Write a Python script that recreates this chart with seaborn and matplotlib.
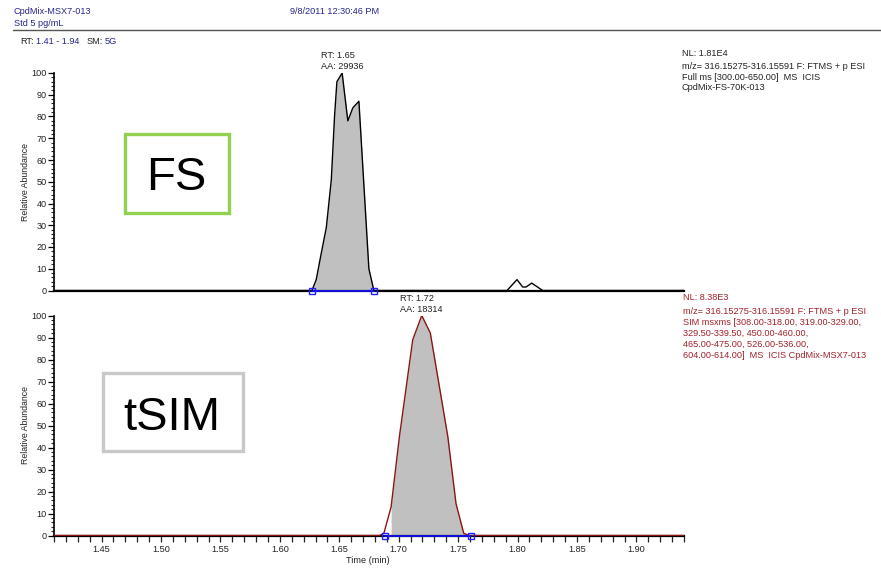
import numpy as np
import pandas as pd
import matplotlib
matplotlib.use("Agg")
import matplotlib.pyplot as plt
import matplotlib.patches as mpatches
from matplotlib.ticker import MultipleLocator, FormatStrFormatter
import seaborn as sns

# ---- chromatogram data (time in min, relative abundance in %) ----
fs_time = [1.41, 1.6270, 1.6306, 1.6348, 1.6391, 1.6433, 1.6460, 1.6480, 1.6524,
           1.6572, 1.6614, 1.6665, 1.6749, 1.6791,
           1.7911, 1.7995, 1.8043, 1.8071, 1.8119, 1.8211, 1.94]
fs_abund = [0, 0, 5, 17, 29, 51, 80, 96, 100,
            78, 84, 87, 10, 0,
            0, 5, 1.6, 1.6, 3.4, 0, 0]
fs_window = [1.6270, 1.6791]

sim_time = [1.41, 1.6838, 1.6875, 1.6936, 1.7006, 1.7118, 1.7194, 1.7266,
            1.7413, 1.7482, 1.7547, 1.7594, 1.94]
sim_abund = [0, 0, 1, 13, 45, 89, 100, 92, 45, 14.5, 1, 0, 0]
sim_window = [1.6886, 1.7609]

x_range = [1.41, 1.94]

header_left = ["CpdMix-MSX7-013", "Std 5 pg/mL"]
header_date = "9/8/2011 12:30:46 PM"
fs_peak_label = ["RT: 1.65", "AA: 29936"]
sim_peak_label = ["RT: 1.72", "AA: 18314"]
fs_info = ["NL: 1.81E4",
           "m/z= 316.15275-316.15591 F: FTMS + p ESI",
           "Full ms [300.00-650.00]  MS  ICIS",
           "CpdMix-FS-70K-013"]
sim_info = ["NL: 8.38E3",
            "m/z= 316.15275-316.15591 F: FTMS + p ESI",
            "SIM msxms [308.00-318.00, 319.00-329.00,",
            "329.50-339.50, 450.00-460.00,",
            "465.00-475.00, 526.00-536.00,",
            "604.00-614.00]  MS  ICIS CpdMix-MSX7-013"]

sns.set_style("white")
plt.rcParams["font.family"] = ["Liberation Sans", "DejaVu Sans"]

W, H = 881, 568
fig = plt.figure(figsize=(W / 100, H / 100), dpi=100)


def fx(x):
    return x / W


def fy(y):
    return 1 - y / H


BLUE_TXT = "#26268f"
RED_TXT = "#a3202a"
TRACE_RED = "#8b1414"
FILL = "#c0c0c0"
FS = 6.6

ax_left, ax_right = 54, 684
ax_w = ax_right - ax_left
ax1 = fig.add_axes([fx(ax_left), fy(290.5), ax_w / W, 217.5 / H])
ax2 = fig.add_axes([fx(ax_left), fy(535.5), ax_w / W, 220 / H])

fs_df = pd.DataFrame({"time": fs_time, "abund": fs_abund})
sim_df = pd.DataFrame({"time": sim_time, "abund": sim_abund})


def draw_trace(ax, df, window, color):
    t = np.asarray(df["time"], float)
    a = np.asarray(df["abund"], float)
    inside = (t >= window[0] - 1e-9) & (t <= window[1] + 1e-9)
    ax.fill_between(t[inside], 0, a[inside], color=FILL, lw=0, zorder=1)
    sns.lineplot(data=df, x="time", y="abund", ax=ax, color=color, lw=1.0,
                 estimator=None, sort=False, zorder=3)
    ax.plot(window, [0, 0], color="#1010e0", lw=1.4, zorder=4,
            marker="s", ms=4, mfc="none", mec="#2020ff", mew=1.0, clip_on=False)


draw_trace(ax1, fs_df, fs_window, "black")
draw_trace(ax2, sim_df, sim_window, TRACE_RED)

for ax in (ax1, ax2):
    ax.set_xlim(*x_range)
    ax.set_ylim(0, 100)
    ax.set_facecolor("white")
    for s in ("top", "right"):
        ax.spines[s].set_visible(False)
    ax.spines["left"].set_linewidth(1.2)
    ax.spines["left"].set_color("black")
    ax.spines["bottom"].set_linewidth(1.6)
    ax.spines["bottom"].set_color("black")
    ax.yaxis.set_major_locator(MultipleLocator(10))
    ax.yaxis.set_minor_locator(MultipleLocator(2))
    ax.tick_params(axis="y", which="major", direction="out", length=4, width=0.9,
                   labelsize=FS, pad=1, left=True, colors="black", labelcolor="#222222")
    ax.tick_params(axis="y", which="minor", direction="out", length=2.5, width=0.8, left=True)
    ax.set_ylabel("Relative Abundance", fontsize=6.3, color="#222222")
    ax.yaxis.set_label_coords(-(ax_left - 30) / ax_w, 0.5)
    ax.set_xlabel("")

ax1.tick_params(axis="x", which="both", bottom=False, labelbottom=False)

ax2.xaxis.set_major_locator(MultipleLocator(0.05))
ax2.xaxis.set_minor_locator(MultipleLocator(0.01))
ax2.xaxis.set_major_formatter(FormatStrFormatter("%.2f"))
ax2.tick_params(axis="x", which="both", direction="out", length=4, width=0.9,
                bottom=True, labelsize=FS, pad=3, labelcolor="#222222")
ax2.set_xlabel("Time (min)", fontsize=FS, color="#222222")
ax2.xaxis.set_label_coords((368 - ax_left) / ax_w, -(556 - 535.5) / 220)

# ---- header ----
fig.text(fx(14), fy(12), header_left[0], fontsize=FS, color=BLUE_TXT, va="center")
fig.text(fx(14), fy(23), header_left[1], fontsize=FS, color=BLUE_TXT, va="center")
fig.text(fx(290), fy(12), header_date, fontsize=FS, color=BLUE_TXT, va="center")
fig.add_artist(plt.Line2D([fx(13), fx(881)], [fy(29.5), fy(29.5)],
                          color="#555555", lw=1.0, transform=fig.transFigure))
fig.text(fx(20), fy(42), "RT:", fontsize=FS, color="#222222", va="center")
fig.text(fx(36), fy(42), "1.41 - 1.94", fontsize=FS, color=BLUE_TXT, va="center")
fig.text(fx(87), fy(42), "SM:", fontsize=FS, color="#222222", va="center")
fig.text(fx(105), fy(42), "5G", fontsize=FS, color=BLUE_TXT, va="center")

# ---- peak labels ----
fig.text(fx(321), fy(55.3), fs_peak_label[0], fontsize=FS, color="#222222", va="center")
fig.text(fx(321), fy(66.7), fs_peak_label[1], fontsize=FS, color="#222222", va="center")
fig.text(fx(400), fy(298.3), sim_peak_label[0], fontsize=FS, color="#222222", va="center")
fig.text(fx(400), fy(309.3), sim_peak_label[1], fontsize=FS, color="#222222", va="center")

# ---- scan info blocks ----
for txt, y in zip(fs_info, [53.3, 66.7, 77.5, 88]):
    fig.text(fx(682), fy(y), txt, fontsize=FS, color="#222222", va="center")
for txt, y in zip(sim_info, [297.7, 311, 322.3, 333.3, 344.3, 355.7]):
    fig.text(fx(683), fy(y), txt, fontsize=FS, color=RED_TXT, va="center")

# ---- scan-mode boxes ----
fig.add_artist(mpatches.Rectangle((fx(125), fy(213)), (229 - 125) / W, (213 - 134) / H,
                                  transform=fig.transFigure, fill=False,
                                  ec="#92d050", lw=2.4))
fig.text(fx(176), fy(190), "FS", fontsize=34, color="black", ha="center", va="baseline")
fig.add_artist(mpatches.Rectangle((fx(103), fy(451)), (243 - 103) / W, (451 - 373) / H,
                                  transform=fig.transFigure, fill=False,
                                  ec="#c8c8c8", lw=2.4))
fig.text(fx(172), fy(430), "tSIM", fontsize=34, color="black", ha="center", va="baseline")

fig.savefig("out.png", dpi=100, facecolor="white")
